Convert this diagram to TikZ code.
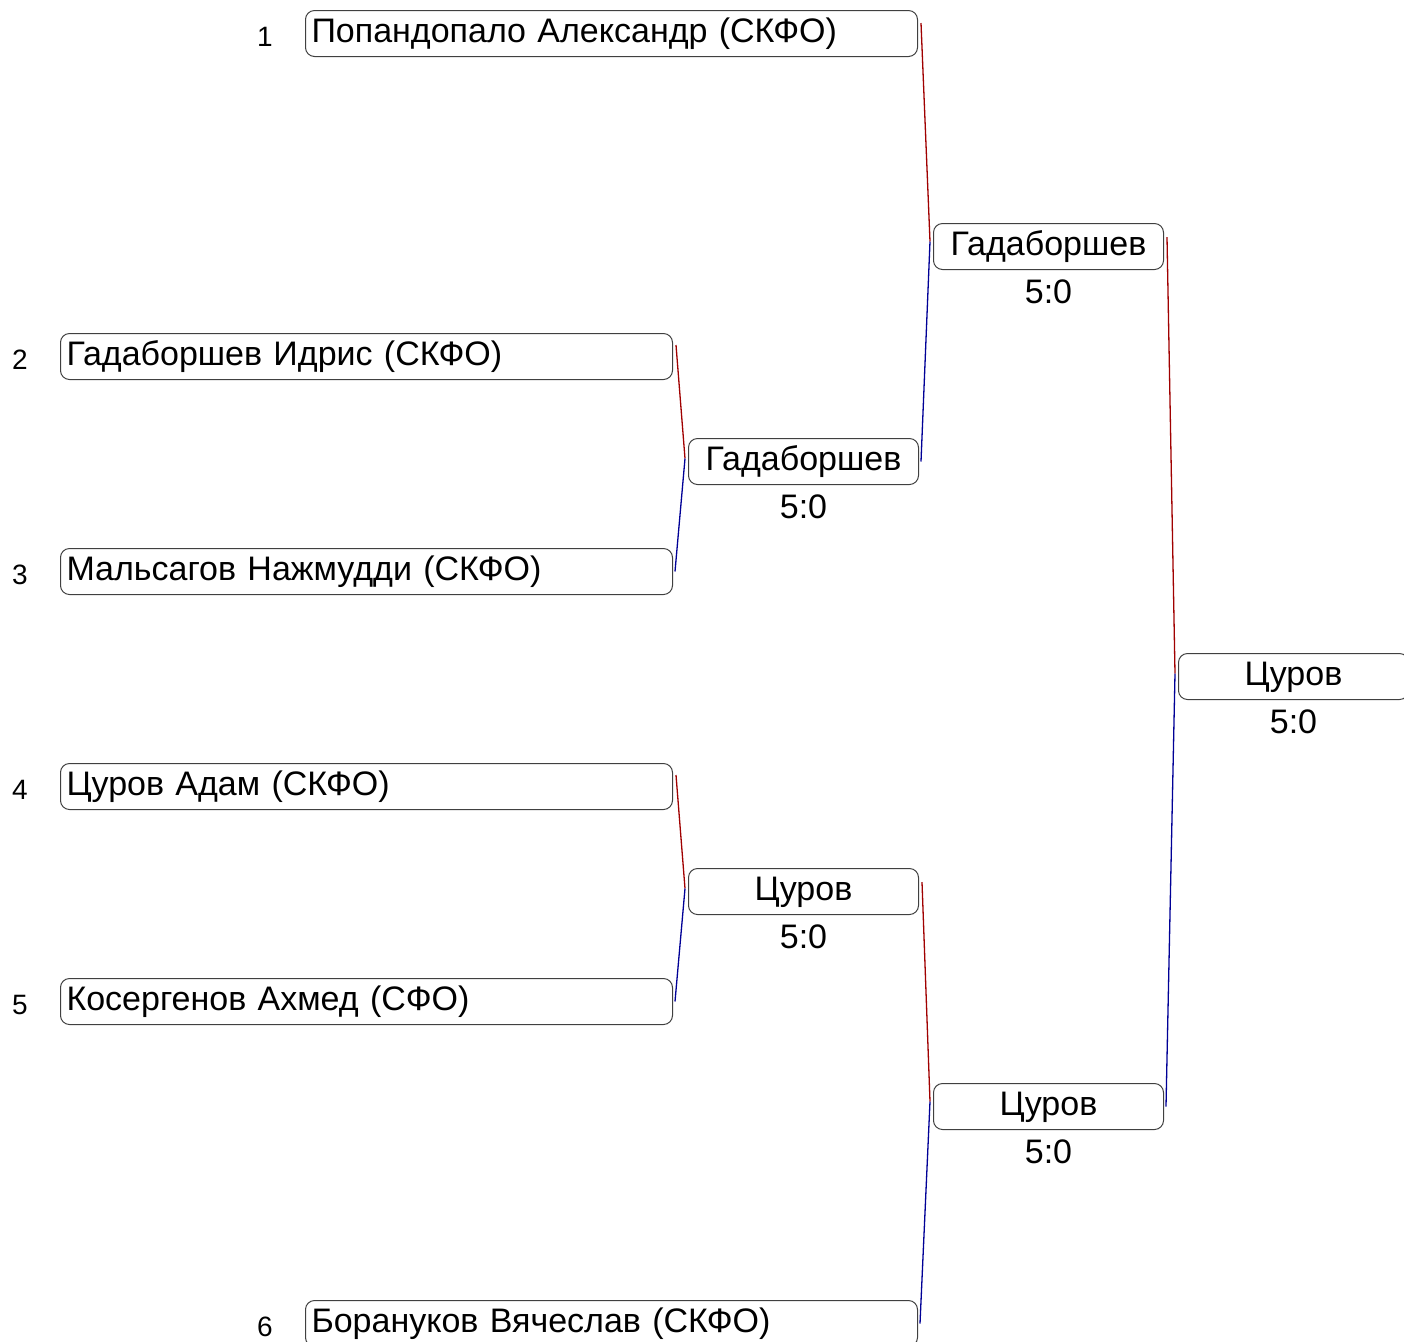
\documentclass[tikz,border=0pt]{standalone}
\usepackage{fontspec}
\setmainfont{Liberation Sans}
\usetikzlibrary{positioning}
\definecolor{winred}{RGB}{160,0,0}
\definecolor{loseblue}{RGB}{0,0,150}

\begin{document}
\begin{tikzpicture}[x=0.5pt, y=-0.5pt,
  player/.style={rectangle, rounded corners=4.5pt, draw=black!75, line width=0.5pt, minimum width=306pt, minimum height=23pt, text width=300pt, text height=12.5pt, text depth=3.5pt, inner xsep=3pt, inner ysep=0pt, align=left, anchor=north west, font=\fontsize{17}{19}\selectfont},
  winner/.style={rectangle, rounded corners=4.5pt, draw=black!75, line width=0.5pt, minimum width=115pt, minimum height=23pt, text height=12.5pt, text depth=3.5pt, inner sep=0pt, align=center, anchor=north west, font=\fontsize{17}{19}\selectfont},
  seed/.style={inner sep=0pt, yshift=-1.5pt, font=\fontsize{14}{16}\selectfont},
  score/.style={inner sep=0pt, font=\fontsize{17}{19}\selectfont},
  upper/.style={draw=winred, line width=0.65pt},
  lower/.style={draw=loseblue, line width=0.65pt}
]
  \useasboundingbox (0,0) rectangle (1404,1341);
  \clip (0,0) rectangle (1404,1341);
  % first round
  \node[player] (p1) at (305,10) {Попандопало Александр (СКФО)};
  \node[player] (p2) at (60,333) {Гадаборшев Идрис (СКФО)};
  \node[player] (p3) at (60,548) {Мальсагов Нажмудди (СКФО)};
  \node[player] (p4) at (60,763) {Цуров Адам (СКФО)};
  \node[player] (p5) at (60,978) {Косергенов Ахмед (СФО)};
  \node[player] (p6) at (305,1300) {Борануков Вячеслав (СКФО)};
  \node[seed, left=16pt of p1] (n1) {1};
  \node[seed, left=16pt of p2] (n2) {2};
  \node[seed, left=16pt of p3] (n3) {3};
  \node[seed, left=16pt of p4] (n4) {4};
  \node[seed, left=16pt of p5] (n5) {5};
  \node[seed, left=16pt of p6] (n6) {6};
  % winners
  \node[winner] (w23) at (688,438) {Гадаборшев};
  \node[winner] (w45) at (688,868) {Цуров};
  \node[winner] (w1) at (933,223) {Гадаборшев};
  \node[winner] (w6) at (933,1083) {Цуров};
  \node[winner] (fin) at (1178,653) {Цуров};
  \node[score, below=4.5pt of w23] (s23) {5:0};
  \node[score, below=4.5pt of w45] (s45) {5:0};
  \node[score, below=4.5pt of w1] (s1) {5:0};
  \node[score, below=4.5pt of w6] (s6) {5:0};
  \node[score, below=4.5pt of fin] (sf) {5:0};
  % junctions
  \coordinate (j23) at ([xshift=-1.5pt,yshift=1.5pt]w23.west);
  \coordinate (j45) at ([xshift=-1.5pt,yshift=1.5pt]w45.west);
  \coordinate (j1) at ([xshift=-1.5pt,yshift=2.5pt]w1.west);
  \coordinate (j6) at ([xshift=-1.5pt,yshift=2.5pt]w6.west);
  \coordinate (jf) at ([xshift=-1.5pt,yshift=1.5pt]fin.west);
  \draw[upper] ([xshift=1.5pt,yshift=-6pt]p2.north east) -- (j23);
  \draw[lower] (j23) -- ([xshift=1pt]p3.east);
  \draw[upper] ([xshift=1.5pt,yshift=-6pt]p4.north east) -- (j45);
  \draw[lower] (j45) -- ([xshift=1pt]p5.east);
  \draw[upper] ([xshift=1.5pt,yshift=-6.5pt]p1.north east) -- (j1);
  \draw[lower] (j1) -- ([xshift=1pt]w23.east);
  \draw[upper] ([xshift=1.5pt,yshift=-7pt]w45.north east) -- (j6);
  \draw[lower] (j6) -- ([xshift=1pt]p6.east);
  \draw[upper] ([xshift=1.5pt,yshift=-7pt]w1.north east) -- (jf);
  \draw[lower] (jf) -- ([xshift=1pt]w6.east);
\end{tikzpicture}
\end{document}
